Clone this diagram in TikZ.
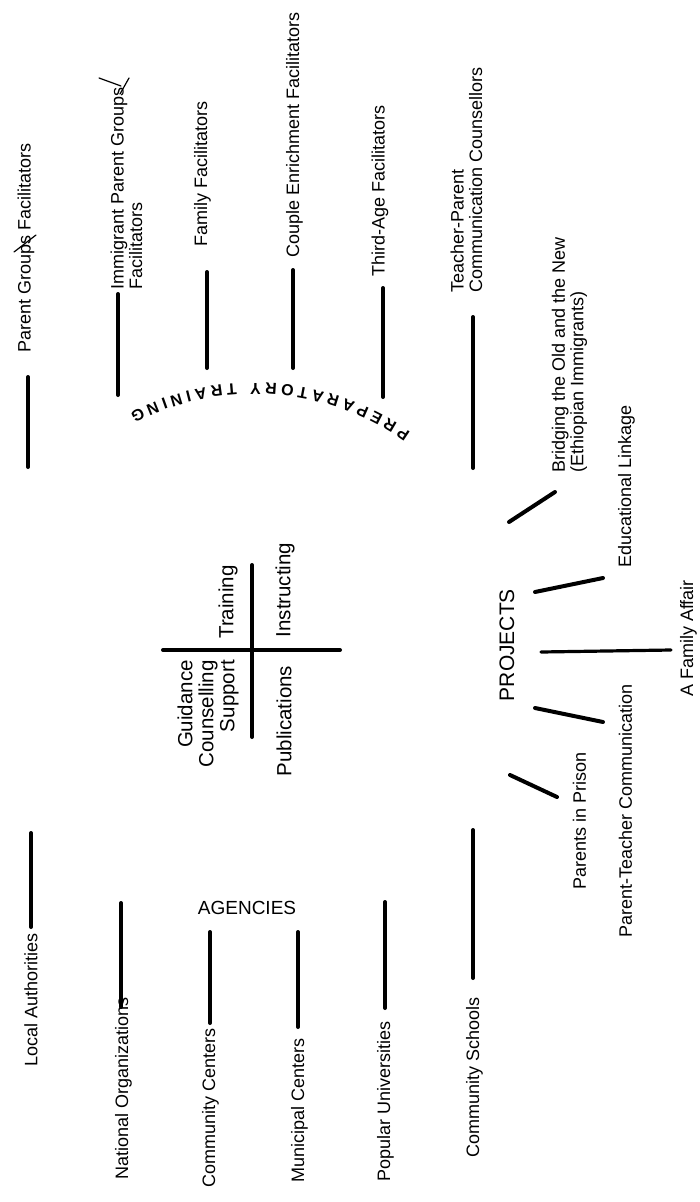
\documentclass[tikz,border=0pt]{standalone}
\usepackage{fontspec}
\setmainfont{Liberation Sans}
\usetikzlibrary{decorations.text}
\begin{document}
\begin{tikzpicture}[x=1pt,y=1pt,
  lbl/.style={rotate=90, anchor=west, inner sep=0pt, align=left, font=\fontsize{18}{18.5}\selectfont},
  cross/.style={rotate=90, inner sep=0pt, font=\fontsize{20.5}{21}\selectfont},
  bar/.style={line width=4pt, line cap=round},
  pen/.style={line width=1.2pt, line cap=round}]
\useasboundingbox (0,0) rectangle (699,-1202);

% ---------- facilitators (preparatory training) ----------
\node[lbl] (pg)  at (26,-353)  {Parent Groups Facilitators};
\node[lbl] (ipg) at (126.5,-290) {Immigrant Parent Groups\\Facilitators};
\node[lbl] (ff)  at (202.5,-247) {Family Facilitators};
\node[lbl] (cef) at (294.5,-258) {Couple Enrichment Facilitators};
\node[lbl] (taf) at (380,-277) {Third-Age Facilitators};
\node[lbl] (tpc) at (466.5,-293) {Teacher-Parent\\Communication Counsellors};

\coordinate (pg1) at (28,-377);   \coordinate (pg2) at (28,-467);
\coordinate (ipg1) at (118,-294); \coordinate (ipg2) at (118,-395);
\coordinate (ff1) at (207,-272);  \coordinate (ff2) at (207,-368);
\coordinate (cef1) at (293,-270); \coordinate (cef2) at (293,-368);
\coordinate (taf1) at (383,-288); \coordinate (taf2) at (383,-397);
\coordinate (tpc1) at (473,-317); \coordinate (tpc2) at (473,-468);
\foreach \n in {pg,ipg,ff,cef,taf,tpc} \draw[bar] (\n1) -- (\n2);

% pen marks
\coordinate (m1a) at (14,-252);  \coordinate (m1b) at (36,-235);
\coordinate (m2a) at (99,-78);   \coordinate (m2b) at (121,-86);
\coordinate (m3a) at (120,-94);  \coordinate (m3b) at (129,-78);
\draw[pen] (m1a) -- (m1b);
\draw[pen] (m2a) -- (m2b);
\draw[pen] (m3a) -- (m3b);

% arc text
\path[decorate, decoration={text along path,
   text={|\fontsize{16}{16}\selectfont\bfseries|PREPARATORY TRAINING},
   text align={fit to path}}]
   (254,-656) ++(55:273pt) arc[start angle=55, end angle=117, radius=273pt];

% ---------- centre cross ----------
\coordinate (hx1) at (163,-650); \coordinate (hx2) at (340,-650);
\coordinate (vx1) at (252,-565); \coordinate (vx2) at (252,-737);
\draw[bar] (hx1) -- (hx2);
\draw[bar] (vx1) -- (vx2);
\node[cross] (tr) at (228,-602) {Training};
\node[cross] (in) at (285,-590) {Instructing};
\node[cross, anchor=east, align=right] (gcs) at (208,-660) {Guidance\\Counselling\\Support};
\node[cross] (pub) at (284,-721) {Publications};

% ---------- agencies ----------
\node[inner sep=0pt, font=\fontsize{19}{19}\selectfont] (ag) at (247,-908) {AGENCIES};
\node[lbl] (la) at (31,-1067) {Local Authorities};
\node[lbl] (no) at (123.5,-1180) {National Organizations};
\node[lbl] (cc) at (210.5,-1188) {Community Centers};
\node[lbl] (mc) at (299.5,-1183) {Municipal Centers};
\node[lbl] (pu) at (385.5,-1182) {Popular Universities};
\node[lbl] (cs) at (474.5,-1158) {Community Schools};

\coordinate (la1) at (31,-833);  \coordinate (la2) at (31,-927);
\coordinate (no1) at (121,-903); \coordinate (no2) at (121,-1007);
\coordinate (cc1) at (210,-932); \coordinate (cc2) at (210,-1023);
\coordinate (mc1) at (298,-932); \coordinate (mc2) at (298,-1027);
\coordinate (pu1) at (385,-902); \coordinate (pu2) at (385,-1008);
\coordinate (cs1) at (473,-830); \coordinate (cs2) at (473,-978);
\foreach \n in {la,no,cc,mc,pu,cs} \draw[bar] (\n1) -- (\n2);

% ---------- projects ----------
\node[cross, font=\fontsize{21}{21}\selectfont] (pr) at (507,-645) {PROJECTS};
\node[lbl] (pip) at (579.5,-890) {Parents in Prison};
\node[lbl] (ptc) at (625.5,-938) {Parent-Teacher Communication};
\node[lbl] (afa) at (688.5,-697) {A Family Affair};
\node[lbl] (el)  at (626.5,-568) {Educational Linkage};
\node[lbl] (bon) at (569.5,-473) {Bridging the Old and the New\\(Ethiopian Immigrants)};

\coordinate (pip1) at (510,-775); \coordinate (pip2) at (557,-797);
\coordinate (ptc1) at (535,-708); \coordinate (ptc2) at (603,-722);
\coordinate (afa1) at (541,-652); \coordinate (afa2) at (671,-650);
\coordinate (el1) at (535,-592);  \coordinate (el2) at (603,-578);
\coordinate (bon1) at (509,-522); \coordinate (bon2) at (555,-492);
\foreach \n in {pip,ptc,el,bon} \draw[bar] (\n1) -- (\n2);
\draw[bar, line width=3.2pt] (afa1) -- (afa2);
\end{tikzpicture}
\end{document}
